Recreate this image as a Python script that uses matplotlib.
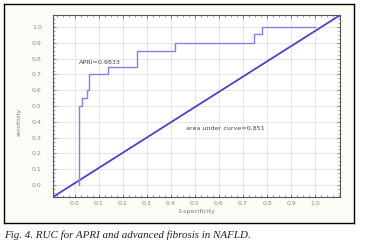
import matplotlib
matplotlib.use("Agg")
import matplotlib.pyplot as plt
from matplotlib.ticker import MultipleLocator

# ROC step curve (1-specificity, sensitivity)
fpr = [0.017, 0.017, 0.029, 0.029, 0.05, 0.05, 0.058, 0.058, 0.1375, 0.1375,
       0.258, 0.258, 0.417, 0.417, 0.746, 0.746, 0.78, 0.78, 1.0]
tpr = [0.0, 0.5, 0.5, 0.55, 0.55, 0.6, 0.6, 0.70, 0.70, 0.75,
       0.75, 0.85, 0.85, 0.9, 0.9, 0.955, 0.955, 1.0, 1.0]
tick_vals = [0.0, 0.1, 0.2, 0.3, 0.4, 0.5, 0.6, 0.7, 0.8, 0.9, 1.0]
tick_labels = ["0.0", "0.1", "0.2", "0.3", "0.4", "0.5", "0.6", "0.7", "0.8", "0.9", "1.0"]
label_apri = "APRI=0.9833"
label_auc = "area under curve=0.851"
caption = "Fig. 4. RUC for APRI and advanced fibrosis in NAFLD."

fig = plt.figure(figsize=(3.65, 2.47), dpi=100)
fig.patch.set_facecolor("white")

# outer framed panel
bg = fig.add_axes([0.011, 0.097, 0.959, 0.887], zorder=-5)
bg.set_facecolor("#fdfdf8")
bg.set_xticks([])
bg.set_yticks([])
for s in bg.spines.values():
    s.set_color("black")
    s.set_linewidth(1.0)

ax = fig.add_axes([0.145, 0.2024, 0.787, 0.7366], zorder=1)
ax.set_facecolor("white")
ax.set_xlim(-0.09, 1.104)
ax.set_ylim(-0.076, 1.076)

ax.grid(True, color="#e2e2e2", linewidth=0.6)
ax.set_axisbelow(True)

ax.plot([0, 1], [0, 1], transform=ax.transAxes, color="#4646c4", linewidth=1.3, zorder=3)
ax.plot(fpr, tpr, color="#8080ee", linewidth=1.0, zorder=4)

ax.text(0.02, 0.775, label_apri, fontsize=4.6, color="#444444", va="center", ha="left")
ax.text(0.465, 0.36, label_auc, fontsize=4.6, color="#444444", va="center", ha="left")

ax.set_xticks(tick_vals)
ax.set_xticklabels(tick_labels)
ax.set_yticks(tick_vals)
ax.set_yticklabels(tick_labels)
ax.xaxis.set_minor_locator(MultipleLocator(0.025))
ax.yaxis.set_minor_locator(MultipleLocator(0.025))
ax.tick_params(axis="both", which="major", labelsize=4.5, labelcolor="#8a8a8a",
               direction="in", length=2, width=0.5, color="#555555",
               top=True, right=True)
ax.tick_params(axis="y", which="major", pad=8)
ax.tick_params(axis="x", which="major", pad=3)
ax.tick_params(axis="both", which="minor", direction="in", length=1.2, width=0.4,
               color="#555555", top=True, right=True)
for s in ax.spines.values():
    s.set_color("#555555")
    s.set_linewidth(0.8)

ax.set_xlabel("1-specificity", fontsize=4.5, color="#777777", labelpad=2)
ax.set_ylabel("sensitivity", fontsize=4.0, color="#777777")
ax.yaxis.set_label_coords(-0.108, 0.41)

fig.text(0.011, 0.049, caption, fontsize=7.9, family="Liberation Serif", style="italic",
         color="#222222", va="center", ha="left")

fig.savefig("out.png", dpi=100)
